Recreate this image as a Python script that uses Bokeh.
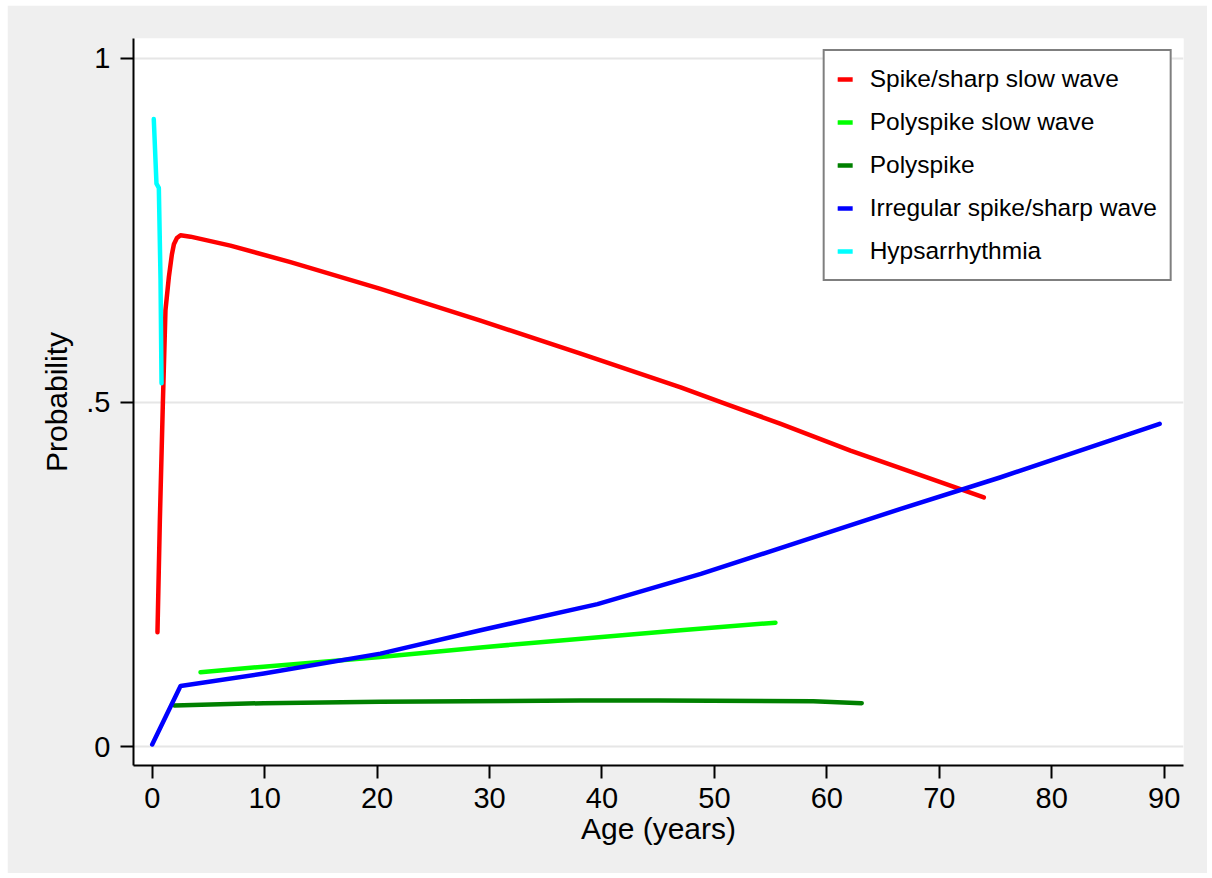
from bokeh.plotting import figure
from bokeh.models import Range1d, FixedTicker, Legend, LegendItem
from bokeh.embed import file_html
from bokeh.resources import INLINE

# ---- data ----
series_names = [
    "Spike/sharp slow wave",
    "Polyspike slow wave",
    "Polyspike",
    "Irregular spike/sharp wave",
    "Hypsarrhythmia",
]
series_colors = ["#FF0000", "#00FF00", "#008000", "#0000FF", "#00FFFF"]

age_spike = [0.47, 0.68, 0.95, 1.18, 1.48, 1.75, 1.93, 2.2, 2.52, 3.4, 6.96, 12.3, 20.3,
             29.2, 38.1, 47.0, 51.0, 55.9, 62.1, 68.9, 73.96]
prob_spike = [0.166, 0.328, 0.500, 0.634, 0.682, 0.715, 0.730, 0.739, 0.743, 0.741,
              0.728, 0.704, 0.665, 0.619, 0.571, 0.522, 0.498, 0.469, 0.430, 0.391, 0.362]

age_polyslow = [4.3, 9.9, 20.3, 29.2, 40.5, 47.0, 55.43]
prob_polyslow = [0.108, 0.116, 0.130, 0.144, 0.160, 0.169, 0.180]

age_poly = [1.98, 9.9, 20.3, 38.1, 45.0, 58.8, 63.1]
prob_poly = [0.0596, 0.063, 0.065, 0.0668, 0.0668, 0.0658, 0.063]

age_irreg = [0.0, 2.52, 9.93, 20.3, 29.2, 39.6, 48.8, 57.7, 66.5, 75.4, 89.6]
prob_irreg = [0.003, 0.088, 0.106, 0.135, 0.169, 0.207, 0.251, 0.298, 0.345, 0.391, 0.469]

age_hyps = [0.14, 0.38, 0.59, 0.74, 0.83]
prob_hyps = [0.912, 0.818, 0.812, 0.679, 0.528]

x_ticks = [0, 10, 20, 30, 40, 50, 60, 70, 80, 90]
y_ticks = [0, 0.5, 1]
y_tick_labels = ["0", ".5", "1"]

x_title = "Age (years)"
y_title = "Probability"

series_x = [age_spike, age_polyslow, age_poly, age_irreg, age_hyps]
series_y = [prob_spike, prob_polyslow, prob_poly, prob_irreg, prob_hyps]

FONT = "Liberation Sans"

p = figure(
    width=1200, height=868, margin=(5, 5, 5, 7),
    output_backend="svg", toolbar_location=None,
    x_range=Range1d(-1.663, 91.72), y_range=Range1d(-0.0276, 1.029),
    min_border_left=126, min_border_right=24, min_border_top=33, min_border_bottom=108,
)
p.background_fill_color = "white"
p.border_fill_color = "#EFEFEF"
p.outline_line_color = None

p.xaxis.ticker = FixedTicker(ticks=x_ticks)
p.yaxis.ticker = FixedTicker(ticks=y_ticks)
p.yaxis.major_label_overrides = dict(zip(y_ticks, y_tick_labels))
p.xaxis.axis_label = x_title
p.yaxis.axis_label = y_title

for ax in (p.xaxis[0], p.yaxis[0]):
    ax.axis_line_width = 2
    ax.axis_line_color = "black"
    ax.major_tick_line_width = 2
    ax.major_tick_line_color = "black"
    ax.major_tick_out = 13
    ax.major_tick_in = 0
    ax.minor_tick_line_color = None
    ax.major_label_text_font = FONT
    ax.major_label_text_font_size = "29px"
    ax.major_label_text_color = "black"
    ax.axis_label_text_font = FONT
    ax.axis_label_text_font_size = "30px"
    ax.axis_label_text_font_style = "normal"
    ax.axis_label_text_color = "black"

p.xaxis.major_label_standoff = 9
p.yaxis.major_label_standoff = 10
p.xaxis.axis_label_standoff = 1
p.yaxis.axis_label_standoff = 10

p.xgrid.visible = False
p.ygrid.grid_line_color = "#E6E6E6"
p.ygrid.grid_line_width = 2

renderers = []
for xs, ys, col in zip(series_x, series_y, series_colors):
    r = p.line(xs, ys, line_color=col, line_width=4.5, line_cap="round", line_join="round")
    renderers.append(r)

legend = Legend(
    items=[LegendItem(label=n, renderers=[r]) for n, r in zip(series_names, renderers)],
    location="top_right", margin=11, padding=13, spacing=13,
    label_height=30, glyph_height=30, glyph_width=15, label_standoff=17,
    label_text_font=FONT, label_text_font_size="24.5px", label_text_color="black",
    border_line_color="black", border_line_width=2,
    background_fill_color="white", background_fill_alpha=1.0,
)
p.add_layout(legend)

open("out.html", "w").write(file_html(p, INLINE))
